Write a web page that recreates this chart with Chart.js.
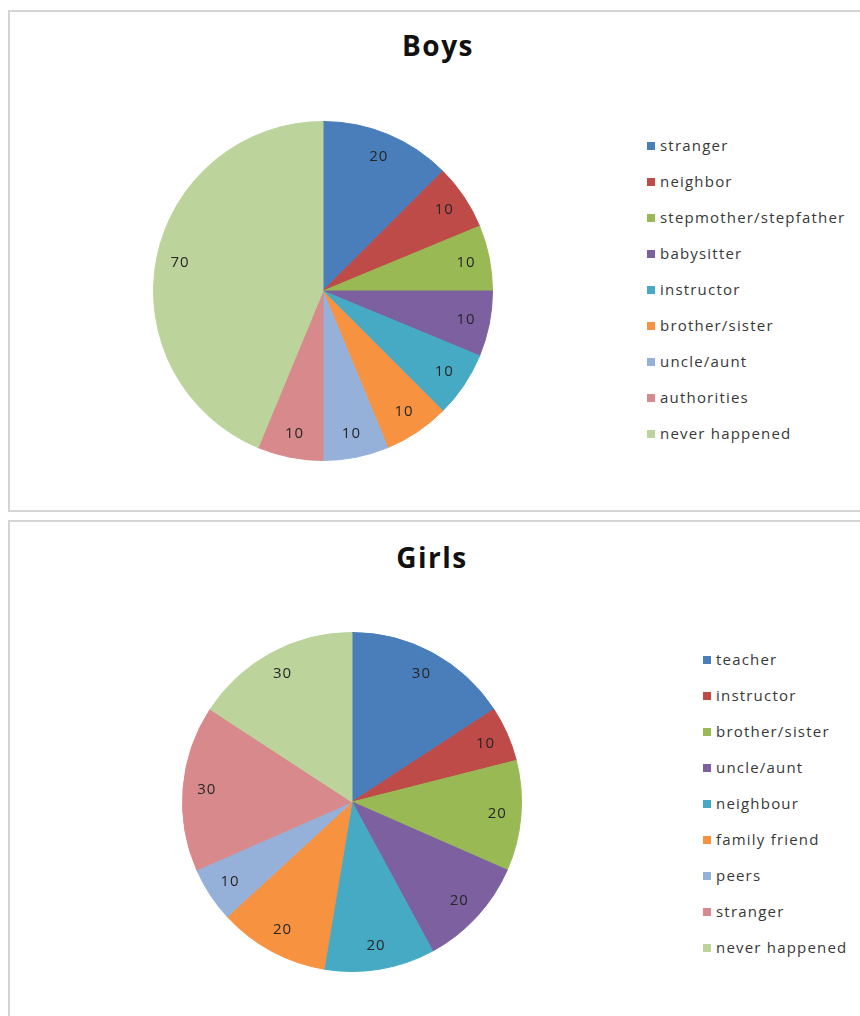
<!DOCTYPE html>
<html>
<head>
<meta charset="utf-8">
<script src="https://cdn.jsdelivr.net/npm/chart.js@4.4.1/dist/chart.umd.min.js"></script>
<style>
  body { margin: 0; background: #fff; width: 860px; height: 1016px; overflow: hidden; position: relative; font-family: 'Open Sans', sans-serif; }
  .panel { position: absolute; left: 8px; width: 880px; border: 2px solid #d4d4d4; background: #fff; }
  .title { position: absolute; left: 0; width: 860px; text-align: center; font-weight: bold; font-size: 28px; letter-spacing: 1.5px; color: #111; }
  .pie { position: absolute; }
  .legend { position: absolute; font-size: 15px; letter-spacing: 1.2px; color: #383838; }
  .legend div { height: 36px; line-height: 20px; white-space: nowrap; }
  .legend span { display: inline-block; width: 8px; height: 8px; margin-right: 5px; vertical-align: 1px; }
</style>
</head>
<body>
<div class="panel" style="top:10px; height:498px;"></div>
<div class="panel" style="top:520px; height:520px;"></div>
<div class="title" style="top:26px; left:8px;">Boys</div>
<div class="title" style="top:538px; left:2px;">Girls</div>
<canvas id="boysChart" class="pie" width="360" height="360" style="left:143px; top:111px;"></canvas>
<canvas id="girlsChart" class="pie" width="360" height="360" style="left:172px; top:622px;"></canvas>
<div id="boysLegend" class="legend" style="left:647px; top:135px;"></div>
<div id="girlsLegend" class="legend" style="left:703px; top:649px;"></div>
<script>
var boysLabels = ['stranger', 'neighbor', 'stepmother/stepfather', 'babysitter', 'instructor', 'brother/sister', 'uncle/aunt', 'authorities', 'never happened'];
var boysValues = [20, 10, 10, 10, 10, 10, 10, 10, 70];

var girlsLabels = ['teacher', 'instructor', 'brother/sister', 'uncle/aunt', 'neighbour', 'family friend', 'peers', 'stranger', 'never happened'];
var girlsValues = [30, 10, 20, 20, 20, 20, 10, 30, 30];

var sliceColors = ['#4a7ebb', '#be4b48', '#98b954', '#7d60a0', '#46aac5', '#f69240', '#95b1d9', '#d8898b', '#bcd49b'];

// value labels inside the slices
var sliceLabels = {
    id: 'sliceLabels',
    afterDatasetsDraw: function (chart) {
        var ctx = chart.ctx;
        var meta = chart.getDatasetMeta(0);
        var values = chart.data.datasets[0].data;
        ctx.save();
        ctx.font = '15px "Open Sans"';
        ctx.letterSpacing = '1px';
        ctx.fillStyle = '#262626';
        ctx.textAlign = 'center';
        ctx.textBaseline = 'middle';
        meta.data.forEach(function (arc, i) {
            var mid = (arc.startAngle + arc.endAngle) / 2;
            var r = arc.outerRadius * 0.86;
            ctx.fillText(values[i], arc.x + Math.cos(mid) * r, arc.y + Math.sin(mid) * r);
        });
        ctx.restore();
    }
};

function makePie(id, labels, values) {
    var ctx = document.getElementById(id).getContext('2d');
    return new Chart(ctx, {
        type: 'pie',
        data: {
            labels: labels,
            datasets: [{
                data: values,
                backgroundColor: sliceColors,
                borderColor: sliceColors,
                borderWidth: 1
            }]
        },
        options: {
            responsive: false,
            animation: false,
            layout: { padding: 10 },
            plugins: {
                legend: { display: false },
                tooltip: { enabled: false }
            }
        },
        plugins: [sliceLabels]
    });
}

function makeLegend(id, labels) {
    var box = document.getElementById(id);
    labels.forEach(function (name, i) {
        var row = document.createElement('div');
        var sw = document.createElement('span');
        sw.style.background = sliceColors[i];
        row.appendChild(sw);
        row.appendChild(document.createTextNode(name));
        box.appendChild(row);
    });
}

makePie('boysChart', boysLabels, boysValues);
makePie('girlsChart', girlsLabels, girlsValues);
makeLegend('boysLegend', boysLabels);
makeLegend('girlsLegend', girlsLabels);
</script>
</body>
</html>
